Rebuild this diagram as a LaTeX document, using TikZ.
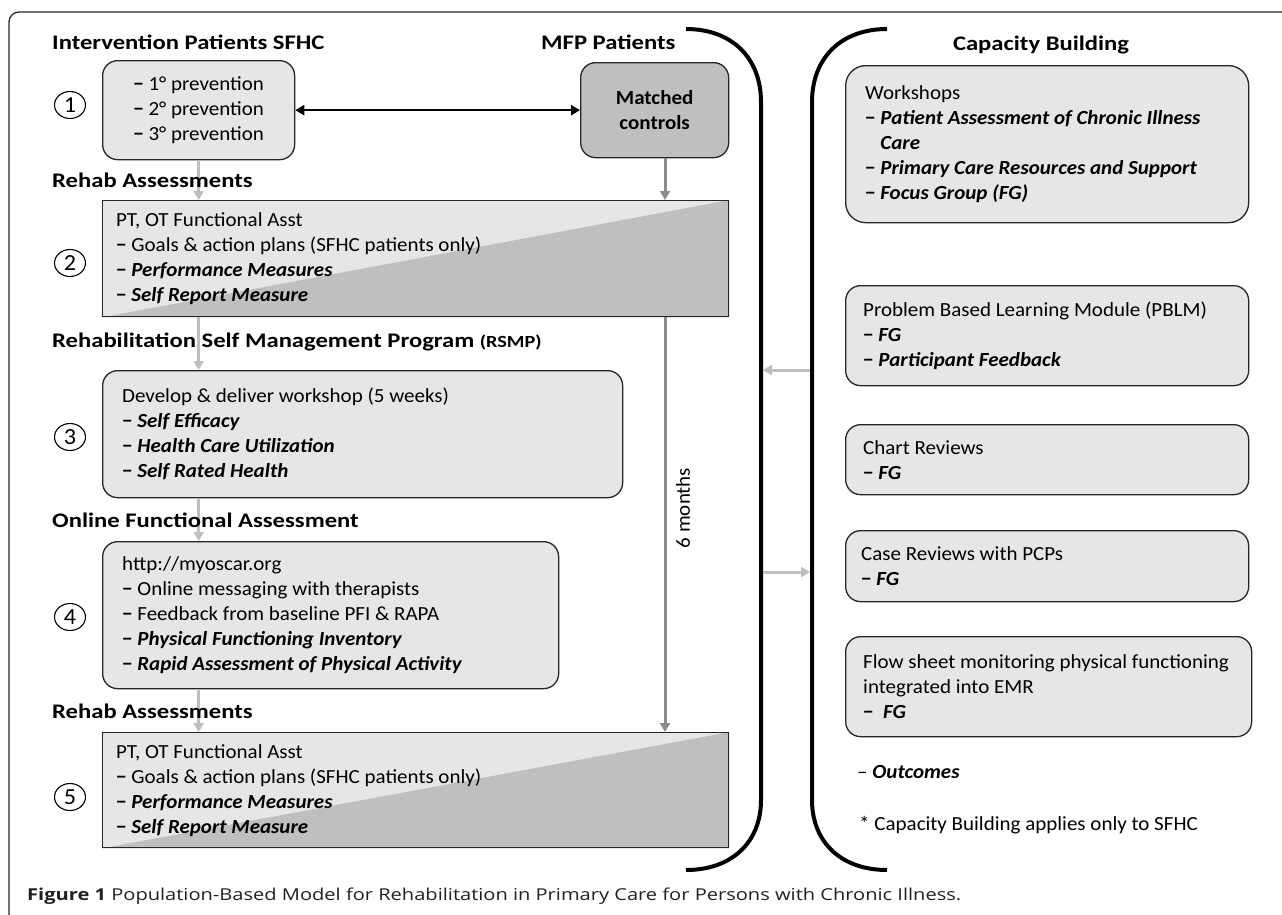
\documentclass[tikz,border=0pt]{standalone}
\usepackage{graphicx}
\usepackage{fontspec}
\setmainfont{Carlito}[FakeStretch=1.05]
\newfontfamily\headfam{Carlito}[FakeStretch=1.19]
\newfontfamily\capfont{Open Sans}
\usetikzlibrary{arrows.meta,backgrounds,shapes.geometric}
\definecolor{boxlight}{HTML}{E6E6E6}
\definecolor{boxdark}{HTML}{BFBFBF}
\definecolor{arrlight}{HTML}{BFBFBF}
\definecolor{arrmid}{HTML}{8C8C8C}
\definecolor{edgecol}{HTML}{262626}
\definecolor{capcol}{HTML}{231F20}
\newcommand{\bodyfont}{\fontsize{20}{25}\selectfont}
\newcommand{\headfont}{\headfam\fontsize{20.7}{25}\selectfont\bfseries}
\newcommand{\bi}[1]{\textbf{\textit{#1}}}
\newcommand{\dsh}{{\bfseries −}}
\begin{document}
\begin{tikzpicture}[x=1pt,y=-1pt,
  rbox/.style={draw=edgecol, line width=1.3pt, fill=boxlight, rounded corners=15pt, inner sep=0pt},
  sbox/.style={draw=edgecol, line width=1.3pt, inner sep=0pt},
  txt/.style={font=\bodyfont, align=left, inner sep=0pt},
  head/.style={font=\headfont, inner sep=0pt, anchor=base west},
  circ/.style={ellipse, draw=black, line width=1.1pt, minimum width=31pt, minimum height=27pt, inner sep=0pt, font=\fontsize{23}{23}\selectfont},
  garrow/.style={draw=arrlight, line width=3pt, -{Triangle[length=9pt,width=10pt]}},
  marrow/.style={draw=arrmid, line width=3pt, -{Triangle[length=9pt,width=10pt]}},
  bracket/.style={line width=4pt, black}
]
\useasboundingbox (0,0) rectangle (1282,914);
% outer frame
\draw[edgecol, line width=1.3pt, rounded corners=10pt] (9,12) rectangle (1300,935);

% headings
\node[head] (h1) at (52,49) {Intervention Patients SFHC};
\node[head] (hm) at (541,49) {MFP Patients};
\node[head, anchor=base] (hc) at (1041,50) {Capacity Building};

% left column boxes
\node[rbox, anchor=north west, minimum width=192pt, minimum height=99pt] (b1) at (102,60) {};
\node[txt, align=center] (t1) at (b1.center) {\dsh{} 1° prevention\\ \dsh{} 2° prevention\\ \dsh{} 3° prevention};

\node[rbox, fill=boxdark, anchor=north west, minimum width=148pt, minimum height=95pt] (mc) at (580,62) {};
\node[txt, align=center, font=\bodyfont\bfseries] (tmc) at (mc.center) {Matched\\controls};

\node[sbox, anchor=north west, minimum width=626pt, minimum height=116pt] (b2) at (102,200) {};
\node[rbox, anchor=north west, minimum width=520pt, minimum height=127pt] (b3) at (102,370) {};
\node[rbox, anchor=north west, minimum width=456pt, minimum height=147pt] (b4) at (102,541) {};
\node[sbox, anchor=north west, minimum width=626pt, minimum height=115pt] (b5) at (102,732) {};

\begin{scope}[on background layer]
\fill[boxlight] (b2.south west) -- (b2.north west) -- (b2.north east) -- cycle;
\fill[boxdark] (b2.south west) -- (b2.south east) -- (b2.north east) -- cycle;
\fill[boxlight] (b5.south west) -- (b5.north west) -- (b5.north east) -- cycle;
\fill[boxdark] (b5.south west) -- (b5.south east) -- (b5.north east) -- cycle;
\end{scope}

% connectors (drawn before headings so text sits on top)
\coordinate (mx) at (665,0);
\draw[garrow] (b1.south) -- (b1.south |- b2.north);
\draw[garrow] (b2.south -| b1.south) -- (b1.south |- b3.north);
\draw[garrow] (b3.south -| b1.south) -- (b1.south |- b4.north);
\draw[garrow] (b4.south -| b1.south) -- (b1.south |- b5.north);
\draw[marrow] (mc.south -| mx) -- (b2.north -| mx);
\draw[marrow] (b2.south -| mx) -- (b5.north -| mx);
\draw[line width=2.5pt, {Triangle[length=9pt,width=10pt]}-{Triangle[length=9pt,width=10pt]}] (b1.east) -- (mc.west);
\node[txt, rotate=90] (six) at (683,508) {6 months};

\node[txt, anchor=west] (t2) at ([xshift=14pt]b2.west) {PT, OT Functional Asst\\ \dsh{} Goals \& action plans (SFHC patients only)\\ \dsh{} \bi{Performance Measures}\\ \dsh{} \bi{Self Report Measure}};
\node[txt, anchor=west] (t3) at ([xshift=20pt]b3.west) {Develop \& deliver workshop (5 weeks)\\ \dsh{} \bi{Self Efficacy}\\ \dsh{} \bi{Health Care Utilization}\\ \dsh{} \bi{Self Rated Health}};
\node[txt, anchor=west] (t4) at ([xshift=20pt]b4.west) {http://myoscar.org\\ \dsh{} Online messaging with therapists\\ \dsh{} Feedback from baseline PFI \& RAPA\\ \dsh{} \bi{Physical Functioning Inventory}\\ \dsh{} \bi{Rapid Assessment of Physical Activity}};
\node[txt, anchor=west] (t5) at ([xshift=14pt]b5.west) {PT, OT Functional Asst\\ \dsh{} Goals \& action plans (SFHC patients only)\\ \dsh{} \bi{Performance Measures}\\ \dsh{} \bi{Self Report Measure}};

\node[head] (h2) at (52,187) {Rehab Assessments};
\node[head] (h3) at (52,347) {Rehabilitation Self Management Program {\fontsize{17}{20}\selectfont (RSMP)}};
\node[head] (h4) at (52,527) {Online Functional Assessment};
\node[head] (h5) at (52,718) {Rehab Assessments};

% circled numbers
\node[circ] (c1) at (70,105) {1};
\node[circ] (c2) at (70,263) {2};
\node[circ] (c3) at (70,437) {3};
\node[circ] (c4) at (70,617) {4};
\node[circ] (c5) at (70,797) {5};

% brackets
\draw[bracket] (686,29) .. controls (732,29) and (761,58) .. (761,102) -- (761,800) .. controls (761,842) and (732,870) .. (686,870);
\draw[bracket] (887,29) .. controls (841,29) and (812,58) .. (812,102) -- (812,800) .. controls (812,842) and (841,870) .. (887,870);
\coordinate (L1) at (763,370); \coordinate (R1) at (810,370);
\coordinate (L2) at (763,572); \coordinate (R2) at (810,572);
\draw[garrow] (R1) -- (L1);
\draw[garrow] (L2) -- (R2);

% right column
\node[rbox, anchor=north west, minimum width=403pt, minimum height=157pt, rounded corners=20pt] (r1) at (845,65) {};
\node[txt, anchor=west] (tr1) at ([xshift=20pt]r1.west) {Workshops\\ \dsh{} \bi{Patient Assessment of Chronic Illness}\\ \phantom{\dsh{} }\bi{Care}\\ \dsh{} \bi{Primary Care Resources and Support}\\ \dsh{} \bi{Focus Group (FG)}};
\node[rbox, anchor=north west, minimum width=403pt, minimum height=100pt] (r2) at (845,285) {};
\node[txt, anchor=west] (tr2) at ([xshift=18pt]r2.west) {Problem Based Learning Module (PBLM)\\ \dsh{} \bi{FG}\\ \dsh{} \bi{Participant Feedback}};
\node[rbox, anchor=north west, minimum width=403pt, minimum height=70pt] (r3) at (845,424) {};
\node[txt, anchor=west] (tr3) at ([xshift=18pt]r3.west) {Chart Reviews\\ \dsh{} \bi{FG}};
\node[rbox, anchor=north west, minimum width=403pt, minimum height=71pt] (r4) at (845,530) {};
\node[txt, anchor=west] (tr4) at ([xshift=16pt]r4.west) {Case Reviews with PCPs\\ \dsh{} \bi{FG}};
\node[rbox, anchor=north west, minimum width=406pt, minimum height=100pt] (r5) at (845,636) {};
\node[txt, anchor=west] (tr5) at ([xshift=18pt]r5.west) {Flow sheet monitoring physical functioning\\ integrated into EMR\\ \dsh\ \ \bi{FG}};

\node[txt, anchor=base west] (out) at (857,778) {– \bi{Outcomes}};
\node[txt, anchor=base west] (note) at (859,830) {* Capacity Building applies only to SFHC};

% caption
\node[text=capcol, anchor=base west, inner sep=0pt] (cap) at (27,900) {\resizebox{934pt}{\height}{\capfont\fontsize{16.4}{18}\selectfont\textbf{Figure 1} Population-Based Model for Rehabilitation in Primary Care for Persons with Chronic Illness.}};
\end{tikzpicture}
\end{document}
